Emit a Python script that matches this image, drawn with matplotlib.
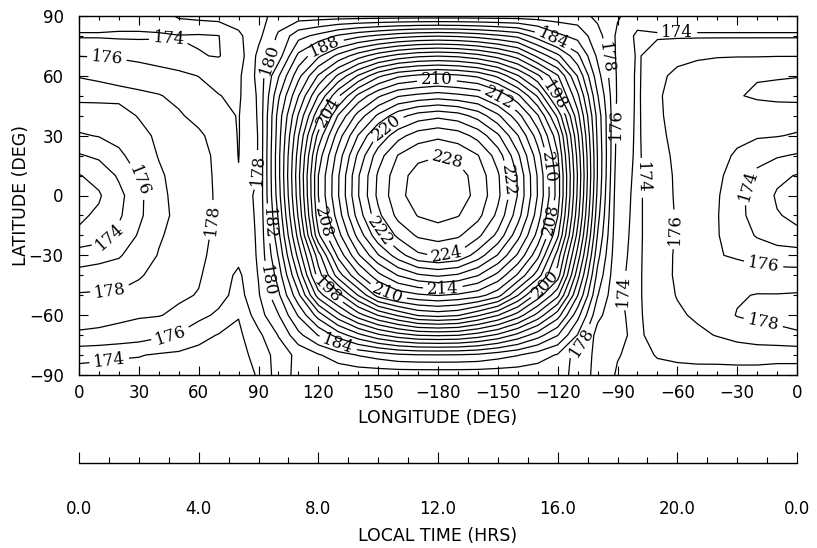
import numpy as np
import matplotlib
matplotlib.use('Agg')
import matplotlib.pyplot as plt

plt.rcParams['font.family'] = ['DejaVu Sans']

# sampling grid of the temperature field (deg)
lon = list(range(0, 361, 10))
lat = list(range(-90, 91, 10))

# surface temperature (K) along each latitude circle, lon 0..360 every 10 deg
t_p90 = [175.0, 175.0, 175.0, 175.0, 175.0, 176.3, 176.6, 176.8, 177.0, 177.2,
         178.9, 178.9, 178.9, 178.9, 178.9, 178.9, 178.9, 178.9, 178.9, 178.9, 178.9, 178.9, 178.9, 178.9, 178.9, 178.9,
         177.5, 176.2, 175.0, 175.0, 175.0, 175.0, 175.0, 175.0, 175.0, 175.0, 175.0]
t_p80 = [173.8, 173.8, 173.7, 173.7, 173.8, 173.9, 173.8, 173.95, 175.6, 177.5,
         180.3, 183.3, 184.6, 186.3, 187.5, 188.4, 189.2, 189.7, 189.9, 189.7, 189.2, 188.4, 187.5, 185.0, 182.5, 181.3,
         178.8, 175.6, 173.6, 173.8, 173.8, 173.8, 173.8, 173.8, 173.8, 173.8, 173.8]
t_p70 = [175.95, 175.9, 175.7, 175.4, 175.0, 174.6, 174.1, 173.9, 175.0, 178.5,
         181.0, 186.5, 189.6, 192.6, 195.1, 197.2, 198.7, 199.6, 199.9, 199.6, 198.7, 197.2, 195.1, 191.5, 188.5, 184.5,
         179.6, 175.6, 173.8, 174.9, 175.4, 175.7, 175.85, 175.9, 175.9, 175.95, 175.95]
t_p60 = [177.95, 177.8, 177.6, 177.3, 176.9, 176.5, 175.95, 175.5, 175.6, 178.6,
         183.8, 189.35, 194.2, 198.4, 202.2, 205.55, 207.6, 208.4, 208.8, 208.4, 207.6, 205.55, 202.2, 198.4, 194.2, 187.85,
         180.8, 175.7, 173.7, 175.5, 176.5, 177.0, 177.5, 177.7, 177.9, 177.9, 177.95]
t_p50 = [178.5, 178.5, 178.4, 178.3, 178.1, 177.6, 177.0, 176.05, 175.7, 178.3,
         185.65, 191.9, 198.1, 203.7, 208.5, 211.65, 213.8, 214.5, 215.0, 214.5, 213.8, 211.65, 208.5, 203.7, 196.8, 190.5,
         182.15, 175.7, 173.7, 175.7, 176.9, 177.4, 177.8, 177.9, 178.2, 178.4, 178.5]
t_p40 = [177.0, 177.1, 177.4, 178.1, 178.4, 178.2, 177.5, 176.6, 175.9, 178.2,
         186.8, 194.2, 201.5, 208.2, 212.8, 216.4, 219.2, 220.9, 221.5, 220.9, 219.2, 216.4, 212.8, 208.2, 201.5, 192.7,
         183.3, 175.5, 173.7, 175.6, 176.9, 177.5, 177.6, 177.3, 177.2, 177.1, 177.0]
t_p30 = [175.8, 176.1, 176.6, 177.5, 178.3, 178.6, 178.3, 177.3, 175.9, 178.1,
         187.1, 195.9, 204.7, 211.0, 216.1, 220.35, 223.3, 225.0, 225.6, 225.0, 223.3, 220.35, 216.1, 211.0, 204.7, 194.4,
         183.6, 175.3, 173.7, 175.5, 176.6, 177.4, 177.1, 176.5, 176.2, 176.1, 175.8]
t_p20 = [173.8, 174.4, 175.6, 176.9, 178.1, 178.7, 178.6, 177.6, 175.95, 178.1,
         187.4, 196.9, 206.9, 212.9, 218.45, 223.1, 226.1, 227.5, 227.9, 227.5, 226.1, 223.1, 218.45, 212.9, 206.2, 195.4,
         183.9, 175.1, 173.7, 175.3, 176.4, 177.1, 176.7, 175.7, 174.8, 174.2, 173.8]
t_p10 = [171.9, 172.6, 174.3, 176.1, 177.7, 178.7, 178.6, 177.7, 176.1, 178.1,
         187.4, 197.4, 208.0, 213.8, 219.8, 224.3, 227.2, 228.8, 229.3, 228.8, 227.2, 224.3, 219.8, 213.8, 207.05, 195.9,
         183.9, 174.8, 173.7, 175.1, 176.3, 176.9, 176.4, 175.1, 173.5, 172.4, 171.9]
t_0 = [171.2, 171.8, 173.4, 175.5, 177.5, 178.6, 178.5, 177.8, 177.5, 178.2,
       187.1, 197.1, 208.0, 213.9, 219.9, 224.5, 227.4, 229.0, 229.5, 229.0, 227.4, 224.5, 219.9, 213.9, 207.1, 195.6,
       183.5, 174.6, 173.7, 174.9, 176.3, 176.8, 176.2, 174.6, 173.1, 171.8, 171.2]
t_m10 = [171.7, 172.3, 173.7, 175.6, 177.4, 178.5, 178.5, 177.8, 177.3, 178.2,
         186.3, 196.3, 207.3, 213.0, 218.9, 223.5, 226.6, 228.1, 228.7, 228.1, 226.6, 223.5, 218.9, 213.0, 206.1, 194.8,
         182.8, 174.5, 173.7, 174.9, 176.2, 176.8, 176.1, 174.7, 173.1, 172.1, 171.7]
t_m20 = [172.3, 173.0, 174.5, 176.2, 177.8, 178.6, 178.5, 177.6, 177.0, 178.2,
         185.4, 194.8, 205.6, 211.3, 216.7, 221.45, 224.5, 226.3, 226.8, 226.3, 224.5, 221.45, 216.7, 211.3, 204.4, 193.3,
         181.9, 174.4, 173.7, 174.9, 176.2, 176.9, 176.1, 175.1, 173.8, 172.8, 172.3]
t_m30 = [175.1, 175.4, 175.8, 177.0, 178.1, 178.5, 178.4, 177.4, 176.6, 178.2,
         184.2, 192.7, 201.1, 208.6, 213.7, 217.85, 221.05, 223.6, 224.2, 223.6, 221.05, 217.85, 213.7, 208.6, 201.1, 191.2,
         180.7, 174.3, 173.7, 175.0, 176.3, 177.0, 176.1, 175.8, 175.4, 175.2, 175.1]
t_m40 = [176.6, 176.8, 177.1, 177.9, 178.3, 178.5, 178.2, 177.0, 175.6, 178.1,
         182.9, 190.3, 199.0, 205.0, 209.7, 213.4, 216.1, 217.7, 218.3, 217.7, 216.1, 213.4, 209.7, 205.0, 199.0, 188.8,
         179.4, 174.2, 173.7, 175.1, 176.3, 177.0, 176.9, 176.8, 176.7, 176.6, 176.6]
t_m50 = [178.2, 178.3, 178.3, 178.35, 178.4, 178.3, 177.9, 176.8, 175.2, 177.8,
         181.6, 187.5, 195.0, 199.1, 204.1, 208.8, 210.8, 211.65, 212.1, 211.65, 210.8, 208.8, 204.1, 199.1, 194.5, 186.1,
         178.1, 174.1, 173.7, 175.1, 176.1, 176.8, 177.5, 177.8, 178.1, 178.1, 178.2]
t_m60 = [178.6, 178.5, 178.4, 178.2, 178.1, 177.6, 176.6, 175.6, 174.1, 177.1,
         179.9, 184.2, 188.9, 193.3, 197.1, 200.1, 202.3, 204.2, 204.7, 204.2, 202.3, 200.1, 197.1, 193.3, 188.9, 182.7,
         176.6, 174.2, 173.7, 174.9, 175.7, 176.3, 177.1, 178.1, 178.4, 178.5, 178.6]
t_m70 = [177.8, 177.7, 177.4, 177.0, 176.4, 175.8, 174.6, 173.9, 173.6, 175.5,
         178.1, 181.4, 184.1, 186.9, 189.4, 191.6, 193.1, 194.1, 194.3, 194.1, 193.1, 191.6, 189.4, 186.9, 184.1, 179.9,
         175.1, 174.3, 173.7, 174.6, 175.2, 175.6, 176.1, 176.7, 177.2, 177.5, 177.8]
t_m80 = [174.6, 174.4, 174.2, 174.1, 173.8, 173.6, 173.4, 173.4, 173.5, 174.5,
         177.0, 178.5, 179.8, 181.0, 182.1, 182.85, 183.6, 183.85, 183.9, 183.85, 183.6, 182.85, 182.1, 181.0, 179.8, 177.0,
         175.6, 174.1, 173.5, 174.1, 174.3, 174.5, 174.6, 174.7, 174.7, 174.6, 174.6]
t_m90 = [173.2, 173.2, 173.2, 173.2, 173.2, 173.2, 173.2, 173.3, 173.5, 174.1,
         177.0, 178.6, 178.6, 178.6, 178.6, 178.6, 178.6, 178.6, 178.6, 178.6, 178.6, 178.6, 178.6, 178.6, 178.6, 177.5,
         175.2, 173.8, 173.3, 173.5, 173.5, 173.4, 173.3, 173.3, 173.3, 173.2, 173.2]

levels = list(range(172, 230, 2))

# where the contour values are written (lon, lat)
label_lon = [45, 14, 31.5, 15.5, 67, 15.5, 45.6, 15, 90, 94.5, 96, 96.5,
             123, 126, 154.4, 179.5, 210, 184.5, 215, 237.7, 234.6, 237.7,
             265, 270, 300, 286, 297, 335, 343, 343, 271, 251,
             234.6, 237, 184.5, 182.5, 154.4, 123.4, 130, 122, 149.4]
label_lat = [79.5, 69, 7.8, -21, -12.3, -46, -68.5, -81.5, 12.8, -14, -42.4, 68,
             75.5, 41.3, 33.8, 57, 48, 17.8, 7.8, 49.4, 14.3, 78,
             69, 36, 80.5, 9, -17, 5, -36.5, -64, -47.4, -73,
             -45, -12.3, -30, -47.5, -50, -48.4, -74, -13.3, -19]

lon_ticks = [0, 30, 60, 90, 120, 150, 180, 210, 240, 270, 300, 330, 360]
lon_tick_labels = ['0', '30', '60', '90', '120', '150', '\u2212180', '\u2212150',
                   '\u2212120', '\u221290', '\u221260', '\u221230', '0']
lat_ticks = [-90, -60, -30, 0, 30, 60, 90]
lat_tick_labels = ['\u221290', '\u221260', '\u221230', '0', '30', '60', '90']
hour_ticks = [0, 4, 8, 12, 16, 20, 24]
hour_tick_labels = ['0.0', '4.0', '8.0', '12.0', '16.0', '20.0', '0.0']

temp = np.array([t_m90, t_m80, t_m70, t_m60, t_m50, t_m40, t_m30, t_m20, t_m10, t_0,
                 t_p10, t_p20, t_p30, t_p40, t_p50, t_p60, t_p70, t_p80, t_p90])

fig = plt.figure(figsize=(8.17, 5.48), dpi=100)
ax = fig.add_axes([79 / 817, 1 - 375 / 548, 718 / 817, 359 / 548])

cs = ax.contour(lon, lat, temp, levels=levels, colors='black', linewidths=0.9)
with plt.rc_context({'font.family': ['DejaVu Serif']}):
    ax.clabel(cs, fmt='%d', fontsize=12, inline=True, inline_spacing=4,
              manual=list(zip(label_lon, label_lat)))

ax.set_xlim(0, 360)
ax.set_ylim(-90, 90)
ax.set_xticks(lon_ticks, lon_tick_labels)
ax.set_xticks(range(0, 361, 10), minor=True)
ax.set_yticks(lat_ticks, lat_tick_labels)
ax.set_yticks(range(-90, 91, 10), minor=True)
ax.tick_params(which='both', direction='in', top=True, right=True,
               width=0.8, labelsize=12)
ax.tick_params(which='major', length=6.5)
ax.tick_params(which='minor', length=3.2)
ax.tick_params(axis='x', pad=6.5)
ax.tick_params(axis='y', pad=11)
for sp in ax.spines.values():
    sp.set_linewidth(1.0)

ax.set_xlabel('LONGITUDE (DEG)', fontsize=12.5)
ax.xaxis.set_label_coords(0.5, (375 - 409) / 359)
ax.set_ylabel('LATITUDE (DEG)', fontsize=12.5)
ax.yaxis.set_label_coords((30 - 79) / 718, 0.5)

# local time scale under the map
ax2 = fig.add_axes([79 / 817, 1 - 463 / 548, 718 / 817, 0.001])
ax2.patch.set_visible(False)
for side in ('top', 'left', 'right'):
    ax2.spines[side].set_visible(False)
ax2.spines['bottom'].set_linewidth(1.0)
ax2.set_xlim(0, 24)
ax2.set_yticks([])
ax2.set_xticks(hour_ticks, hour_tick_labels)
ax2.set_xticks(range(0, 25), minor=True)
ax2.tick_params(axis='x', which='both', direction='in', width=0.8,
                labelsize=12, pad=27)
ax2.tick_params(axis='x', which='major', length=8)
ax2.tick_params(axis='x', which='minor', length=4.3)
ax2.set_xlabel('LOCAL TIME (HRS)', fontsize=12.5, labelpad=6)

fig.savefig('out.png', dpi=100)
